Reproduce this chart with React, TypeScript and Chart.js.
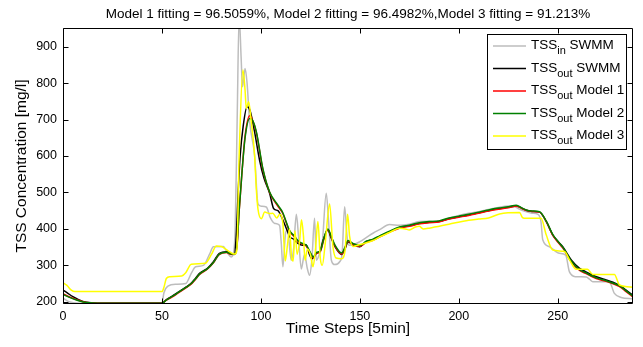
import React, { useEffect, useRef } from 'react';
import { Chart, registerables } from 'chart.js';

Chart.register(...registerables);

// ---------- data ----------
const TITLE = 'Model 1 fitting = 96.5059%, Model 2 fitting = 96.4982%,Model 3 fitting = 91.213%';
const X_LABEL = 'Time Steps [5min]';
const Y_LABEL = 'TSS Concentration [mg/l]';
const X_TICKS = [0, 50, 100, 150, 200, 250];
const Y_TICKS = [200, 300, 400, 500, 600, 700, 800, 900];
const X_MIN = 0;
const X_MAX = 288;
const Y_MIN = 194;
const Y_MAX = 951;

const LEGEND_BASE = ['TSS', 'TSS', 'TSS', 'TSS', 'TSS'];
const LEGEND_SUB = ['in', 'out', 'out', 'out', 'out'];
const LEGEND_REST = ['SWMM', 'SWMM', 'Model 1', 'Model 2', 'Model 3'];
const COLORS = ['#bdbdbd', '#000000', '#ff0000', '#008000', '#ffff00'];

const tssInX = [0, 3, 8, 50, 51, 53, 57, 62, 65, 67, 71, 74, 76, 81, 83, 85, 86, 87, 88, 89, 90, 90.7, 92, 93, 94.3, 96.8, 98.5, 100.2, 102.7, 104.8, 107, 109.4, 110.3, 111.1, 112.5, 113.5, 115.3, 116.5, 117.9, 119, 120.4, 122, 123.5, 124.6, 125.8, 127.1, 128, 129.5, 131, 133, 134.2, 135.6, 137.3, 139.8, 141, 142.3, 143.5, 144.5, 147, 150, 153.2, 156.6, 160, 165, 170, 175, 180, 185, 190, 195, 200, 205, 210, 215, 220, 225, 228, 230, 233, 237, 240, 241.5, 242.4, 245.8, 250.8, 254, 255.9, 259, 264.4, 266, 267.7, 276, 278.6, 282, 288];
const tssInY = [210, 200, 196, 196, 225, 243, 248, 250, 280, 296, 300, 330, 351, 352, 335, 323, 330, 400, 700, 985, 870, 790, 840, 800, 694, 602, 469, 462, 460, 430, 415, 410, 360, 296, 390, 397, 314, 345, 440, 380, 290, 330, 290, 273, 320, 429, 314, 330, 360, 498, 420, 314, 302, 310, 330, 461, 380, 355, 357, 365, 376, 388, 398, 412, 410, 413, 420, 421, 421, 429, 437, 443, 447, 453, 459, 463, 462, 456, 449, 443, 440, 420, 370, 351, 333, 328, 282, 269, 268, 262, 255, 255, 223, 212, 208];

const swmmOutX = [0, 2, 5, 10, 15, 20, 50, 52, 55, 57.3, 60, 62.3, 65, 67, 69, 73, 76, 79, 82.6, 85, 86.5, 87.5, 88.5, 89.5, 91, 93, 94.5, 96.8, 99.3, 101.5, 104.4, 106.5, 108.6, 110.3, 112.8, 114.5, 116.5, 118.7, 121, 122.9, 124.5, 125.8, 128, 129.6, 131.5, 133.8, 135.5, 137.5, 140.8, 142.5, 144, 146.5, 149.9, 153.2, 156.6, 160, 165, 170, 175, 180, 185, 190, 195, 200, 205, 210, 215, 220, 225, 229, 232, 234, 237, 240.8, 244.2, 247.5, 250, 252.5, 256.8, 261, 264, 267.7, 271, 274.4, 279.5, 282, 284.5, 288];
const swmmOutY = [232, 225, 214, 201, 197, 196, 196, 205, 215, 223, 233, 241, 252, 265, 278, 292, 310, 333, 337, 332, 330, 380, 500, 600, 680, 735, 725, 666, 589, 540, 498, 455, 450, 434, 402, 379, 372, 360, 355, 356, 330, 318, 333, 337, 370, 397, 375, 351, 330, 345, 365, 356, 351, 365, 370, 379, 392, 404, 409, 415, 418, 420, 428, 433, 438, 444, 450, 455, 459, 463, 456, 451, 448, 446, 420, 383, 366, 351, 315, 292, 283, 273, 266, 260, 250, 243, 232, 218];

const modelX = [0, 3, 6.8, 11.8, 20, 50, 52, 55, 57.3, 60, 62.3, 65, 67, 69, 73, 76, 79, 82.6, 85, 87, 88, 89, 90.5, 92, 94.3, 95.5, 97.7, 101, 104.4, 108.6, 111, 112.8, 114.5, 117, 119, 121, 123, 125, 126.5, 128, 130, 132, 133.8, 135.5, 137.5, 140.8, 142.5, 144, 146.5, 149.9, 153.2, 156.6, 160, 165, 170, 175, 180, 185, 190, 195, 200, 205, 210, 215, 220, 225, 229, 232, 234, 237, 240.8, 244.2, 247.5, 250, 252.5, 256.8, 261, 264, 267.7, 271, 274.4, 279.5, 282, 284.5, 288];
const model1Y = [222, 214, 206, 198, 196, 196, 204, 213, 221, 231, 239, 250, 262, 275, 290, 307, 330, 335, 330, 331, 358, 448, 560, 655, 710, 702, 664, 562, 500, 462, 443, 417, 393, 378, 364, 358, 352, 332, 320, 333, 338, 375, 398, 378, 352, 331, 348, 366, 358, 352, 363, 369, 378, 391, 402, 407, 414, 417, 419, 427, 432, 437, 443, 449, 454, 458, 462, 456, 451, 448, 446, 420, 382, 364, 348, 310, 286, 278, 268, 261, 256, 246, 239, 228, 213];
const model2Y = [220, 213, 205, 198, 196, 196, 204, 214, 222, 232, 240, 251, 263, 276, 291, 308, 331, 336, 331, 332, 360, 450, 560, 650, 703, 700, 666, 565, 501, 465, 445, 419, 395, 380, 366, 360, 355, 335, 322, 335, 340, 378, 400, 380, 355, 334, 350, 368, 360, 354, 366, 372, 381, 394, 405, 410, 417, 420, 422, 430, 435, 440, 446, 452, 457, 461, 465, 457, 452, 449, 447, 421, 384, 366, 350, 312, 288, 280, 270, 263, 258, 248, 241, 230, 215];

const model3X = [0, 2, 4.2, 6, 50, 51, 52.2, 54, 60, 62, 64.8, 72, 75, 77.5, 80, 82.6, 86.8, 87.8, 89, 90.9, 92, 92.6, 93.8, 95, 96.8, 97.7, 98.5, 100.2, 101.9, 104.4, 106, 108, 109.5, 111.1, 112.3, 113.5, 114.5, 115.5, 116.3, 117.2, 118.3, 119.6, 120.5, 121.5, 122.3, 123.5, 125, 126.3, 127.5, 128.8, 130, 131, 132.5, 134.7, 136.4, 138, 140.6, 142.5, 143.8, 144.8, 146.5, 150, 156.6, 160, 165, 170, 173, 175, 178, 180, 182, 185, 195, 205, 210, 215, 220.6, 230.7, 232, 233, 241.5, 244.2, 247.5, 253.4, 255.9, 259.3, 265, 267.7, 278.6, 281.2, 288];
const model3Y = [252, 245, 232, 228, 228, 240, 264, 269, 271, 280, 303, 306, 330, 353, 352, 343, 331, 340, 600, 836, 780, 730, 749, 700, 602, 507, 455, 428, 446, 442, 443, 430, 440, 415, 312, 360, 400, 320, 312, 395, 330, 370, 425, 380, 314, 345, 330, 296, 340, 420, 320, 300, 360, 468, 351, 320, 318, 340, 440, 380, 352, 357, 368, 378, 390, 402, 400, 397, 405, 407, 400, 402, 413, 424, 427, 430, 441, 445, 432, 429, 429, 383, 342, 338, 315, 289, 289, 275, 275, 246, 240];

const FONT = '"Liberation Sans", Arial, Helvetica, sans-serif';

const toPoints = (xs: number[], ys: number[]) => xs.map((x, i) => ({ x, y: ys[i] }));

const matlabPlugin = {
  id: 'matlabPlugin',
  afterDatasetsDraw(chart: any) {
    const { ctx, chartArea: a, scales } = chart;
    ctx.save();
    ctx.strokeStyle = '#000';
    ctx.lineWidth = 1;
    const L = Math.round(a.left) + 0.5;
    const R = Math.round(a.right) - 0.5;
    const T = Math.round(a.top) + 0.5;
    const B = Math.round(a.bottom) - 0.5;
    ctx.beginPath();
    ctx.rect(L, T, R - L, B - T);
    ctx.stroke();
    const tl = 5;
    ctx.beginPath();
    X_TICKS.forEach((v) => {
      const px = Math.round(scales.x.getPixelForValue(v)) + 0.5;
      ctx.moveTo(px, B);
      ctx.lineTo(px, B - tl);
      ctx.moveTo(px, T);
      ctx.lineTo(px, T + tl);
    });
    Y_TICKS.forEach((v) => {
      const py = Math.round(scales.y.getPixelForValue(v)) + 0.5;
      ctx.moveTo(L, py);
      ctx.lineTo(L + tl, py);
      ctx.moveTo(R, py);
      ctx.lineTo(R - tl, py);
    });
    ctx.stroke();
    ctx.restore();
  },
  afterDraw(chart: any) {
    const { ctx, chartArea: a } = chart;
    ctx.save();
    ctx.fillStyle = '#000';
    // title
    ctx.font = `13.5px ${FONT}`;
    ctx.textAlign = 'center';
    ctx.textBaseline = 'middle';
    ctx.fillText(TITLE, (a.left + a.right) / 2, 14);
    // x label
    ctx.font = `15.5px ${FONT}`;
    ctx.fillText(X_LABEL, (a.left + a.right) / 2, 329);
    // y label
    ctx.save();
    ctx.translate(22, (a.top + a.bottom) / 2);
    ctx.rotate(-Math.PI / 2);
    ctx.fillText(Y_LABEL, 0, 0);
    ctx.restore();

    // legend
    const bx = 487.5, by = 34.5, bw = 139, bh = 115;
    ctx.fillStyle = '#fff';
    ctx.fillRect(bx, by, bw, bh);
    ctx.strokeStyle = '#000';
    ctx.lineWidth = 1;
    ctx.strokeRect(bx, by, bw, bh);
    const rowY = [46, 68.5, 91, 113.5, 136];
    ctx.textAlign = 'left';
    ctx.textBaseline = 'alphabetic';
    for (let i = 0; i < 5; i++) {
      const y = rowY[i];
      ctx.strokeStyle = COLORS[i];
      ctx.lineWidth = 1.5;
      ctx.beginPath();
      ctx.moveTo(493, y);
      ctx.lineTo(526, y);
      ctx.stroke();
      ctx.fillStyle = '#000';
      let x = 531;
      const base = y + 3;
      ctx.font = `13.5px ${FONT}`;
      ctx.fillText(LEGEND_BASE[i], x, base);
      x += ctx.measureText(LEGEND_BASE[i]).width;
      ctx.font = `11px ${FONT}`;
      ctx.fillText(LEGEND_SUB[i], x, base + 5);
      x += ctx.measureText(LEGEND_SUB[i]).width;
      ctx.font = `13.5px ${FONT}`;
      ctx.fillText(' ' + LEGEND_REST[i], x, base);
    }
    ctx.restore();
  },
};

export default function App() {
  const ref = useRef<HTMLCanvasElement | null>(null);
  useEffect(() => {
    document.body.style.margin = '0';
    const canvas = ref.current;
    if (!canvas) return;
    const series = [
      { label: 'TSS in SWMM', data: toPoints(tssInX, tssInY), color: COLORS[0], order: 5 },
      { label: 'TSS out SWMM', data: toPoints(swmmOutX, swmmOutY), color: COLORS[1], order: 4 },
      { label: 'TSS out Model 1', data: toPoints(modelX, model1Y), color: COLORS[2], order: 3 },
      { label: 'TSS out Model 2', data: toPoints(modelX, model2Y), color: COLORS[3], order: 2 },
      { label: 'TSS out Model 3', data: toPoints(model3X, model3Y), color: COLORS[4], order: 1 },
    ];
    const chart = new Chart(canvas, {
      type: 'line',
      data: {
        datasets: series.map((s) => ({
          label: s.label,
          data: s.data,
          borderColor: s.color,
          backgroundColor: s.color,
          borderWidth: 1.5,
          pointRadius: 0,
          fill: false,
          cubicInterpolationMode: 'monotone',
          order: s.order,
        })),
      },
      options: {
        responsive: false,
        animation: false,
        devicePixelRatio: 1,
        layout: { padding: { left: 0, right: 10, top: 28, bottom: 0 } },
        plugins: {
          legend: { display: false },
          title: { display: false },
          tooltip: { enabled: false },
        },
        scales: {
          x: {
            type: 'linear',
            min: X_MIN,
            max: X_MAX,
            grid: { display: false, drawTicks: false },
            border: { display: false },
            ticks: {
              padding: 5,
              color: '#000',
              font: { family: FONT, size: 12.5 },
              maxRotation: 0,
              autoSkip: false,
            },
            afterBuildTicks: (s: any) => {
              s.ticks = X_TICKS.map((v) => ({ value: v }));
            },
            afterFit: (s: any) => {
              s.height = 43;
            },
          },
          y: {
            type: 'linear',
            min: Y_MIN,
            max: Y_MAX,
            grid: { display: false, drawTicks: false },
            border: { display: false },
            ticks: {
              padding: 6,
              color: '#000',
              font: { family: FONT, size: 12.5 },
              autoSkip: false,
            },
            afterBuildTicks: (s: any) => {
              s.ticks = Y_TICKS.map((v) => ({ value: v }));
            },
            afterFit: (s: any) => {
              s.width = 63;
            },
          },
        },
      },
      plugins: [matlabPlugin],
    } as any);
    return () => chart.destroy();
  }, []);
  return (
    <div style={{ width: 643, height: 347, position: 'relative', background: '#fff' }}>
      <canvas ref={ref} width={643} height={347} style={{ display: 'block', width: 643, height: 347 }} />
    </div>
  );
}
